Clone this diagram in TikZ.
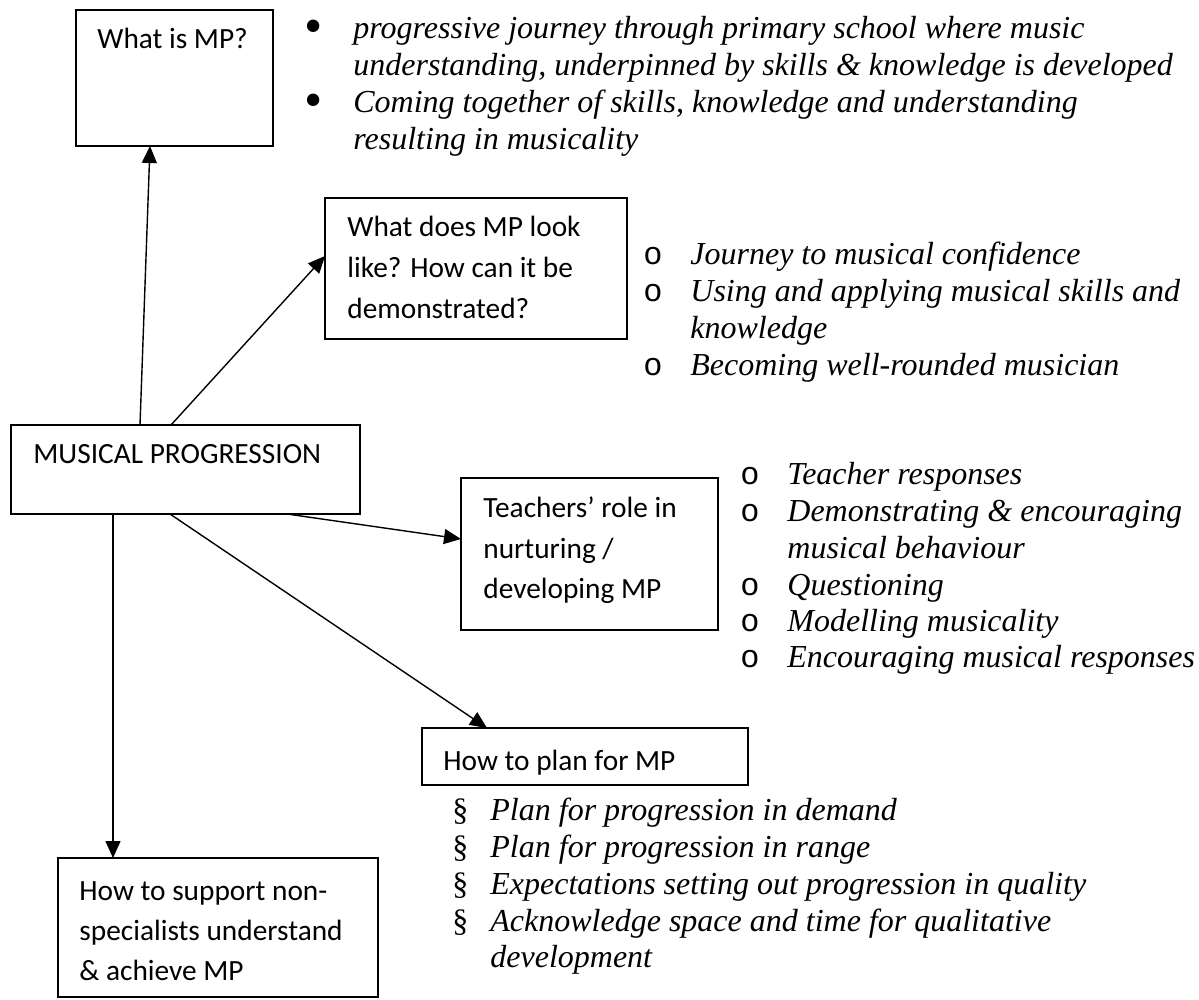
\documentclass[tikz,border=0pt]{standalone}
\usepackage{fontspec}
\setmainfont{Liberation Serif}
\newfontfamily\calib{Carlito}
\newfontfamily\cour{Liberation Mono}
\usetikzlibrary{arrows.meta,calc}
\begin{document}
\begin{tikzpicture}[x=0.5pt,y=-0.5pt,
  boxst/.style={draw, line width=0.8pt, inner sep=0pt, outer sep=0pt, anchor=north west},
  lbl/.style={anchor=base west, inner sep=0pt, font=\calib\fontsize{14.67}{20.5}\selectfont},
  itm/.style={anchor=base west, inner sep=0pt, font=\fontsize{16}{18.4}\selectfont\itshape},
  bul/.style={anchor=base west, inner sep=0pt, font=\fontsize{16}{18.4}\selectfont},
  bigbul/.style={anchor=center, inner sep=0pt, font=\fontsize{26}{26}\selectfont},
  obul/.style={anchor=base west, inner sep=0pt, font=\cour\fontsize{16}{18.4}\selectfont},
  conn/.style={line width=0.7pt, -{Triangle[length=8.5pt,width=7.5pt]}},
]
\useasboundingbox[fill=white] (0,0) rectangle (1199,1000);

% boxes
\node[boxst, minimum width=98.5pt, minimum height=68pt] (A) at (76,10) {};
\node[boxst, minimum width=151pt, minimum height=70.5pt] (B) at (325,198) {};
\node[boxst, minimum width=174.5pt, minimum height=44.5pt] (MP) at (11,425) {};
\node[boxst, minimum width=128.5pt, minimum height=76pt] (C) at (461,478) {};
\node[boxst, minimum width=163pt, minimum height=28.5pt] (D) at (422,728) {};
\node[boxst, minimum width=160pt, minimum height=69.5pt] (E) at (58,858) {};

% box texts
\node[lbl] (tA) at (97,49) {What is MP?};
\node[lbl] (tB1) at (347,237) {What does MP look};
\node[lbl] (tB2) at (347,278) {like? How can it be};
\node[lbl] (tB3) at (347,319) {demonstrated?};
\node[lbl] (tMP) at (33,463) {MUSICAL PROGRESSION};
\node[lbl] (tC1) at (483,517) {Teachers’ role in};
\node[lbl] (tC2) at (483,558) {nurturing /};
\node[lbl] (tC3) at (483,598) {developing MP};
\node[lbl] (tD) at (443,770) {How to plan for MP};
\node[lbl] (tE1) at (79,900) {How to support non-};
\node[lbl] (tE2) at (79,940) {specialists understand};
\node[lbl] (tE3) at (79,980) {\& achieve MP};

% connectors
\draw[conn] ($(MP.north west)+(129,0)$) -- ($(A.south west)+(74,0)$);
\draw[conn] ($(MP.north west)+(160,0)$) -- ($(B.north west)+(0,58)$);
\draw[conn] ($(MP.south west)+(276,0)$) -- ($(C.north west)+(0,61)$);
\draw[conn] ($(MP.south west)+(159,0)$) -- ($(D.north west)+(65,0)$);
\draw[conn] ($(MP.south west)+(102,0)$) -- ($(E.north west)+(55,0)$);

% list 1
\node[bigbul] (b11) at (314,32) {•};
\node[bigbul] (b12) at (314,106) {•};
\node[itm] (l11) at (353,39) {progressive journey through primary school where music};
\node[itm] (l12) at (353,76) {understanding, underpinned by skills \& knowledge is developed};
\node[itm] (l13) at (353,113) {Coming together of skills, knowledge and understanding};
\node[itm] (l14) at (353,150) {resulting in musicality};

% list 2
\node[obul] (b21) at (643,264) {o};
\node[obul] (b22) at (643,301) {o};
\node[obul] (b23) at (643,375) {o};
\node[itm] (l21) at (690,264) {Journey to musical confidence};
\node[itm] (l22) at (690,301) {Using and applying musical skills and};
\node[itm] (l23) at (690,338) {knowledge};
\node[itm] (l24) at (690,375) {Becoming well-rounded musician};

% list 3
\node[obul] (b31) at (740,484) {o};
\node[obul] (b32) at (740,521) {o};
\node[obul] (b33) at (740,595) {o};
\node[obul] (b34) at (740,631) {o};
\node[obul] (b35) at (740,667) {o};
\node[itm] (l31) at (787,484) {Teacher responses};
\node[itm] (l32) at (787,521) {Demonstrating \& encouraging};
\node[itm] (l33) at (787,558) {musical behaviour};
\node[itm] (l34) at (787,595) {Questioning};
\node[itm] (l35) at (787,631) {Modelling musicality};
\node[itm] (l36) at (787,667) {Encouraging musical responses};

% list 4
\node[bul] (b41) at (452,820) {§};
\node[bul] (b42) at (452,857) {§};
\node[bul] (b43) at (452,894) {§};
\node[bul] (b44) at (452,931) {§};
\node[itm] (l41) at (490,820) {Plan for progression in demand};
\node[itm] (l42) at (490,857) {Plan for progression in range};
\node[itm] (l43) at (490,894) {Expectations setting out progression in quality};
\node[itm] (l44) at (490,931) {Acknowledge space and time for qualitative};
\node[itm] (l45) at (490,967) {development};
\end{tikzpicture}
\end{document}
